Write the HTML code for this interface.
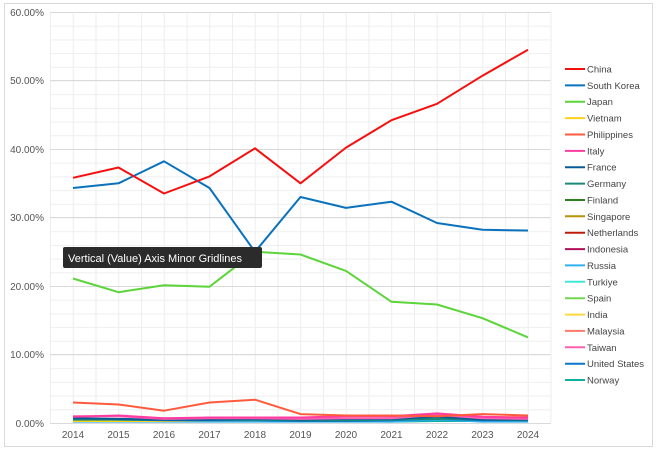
<!DOCTYPE html><html><head><style>body{margin:0;background:#fff}svg{display:block;font-family:"Liberation Sans",sans-serif}</style></head><body>
<svg width="657" height="451" xmlns="http://www.w3.org/2000/svg">
<defs>
<pattern id="grid" x="50" y="12" width="22.75" height="13.7" patternUnits="userSpaceOnUse">
<path d="M0,0.5H22.75M0.5,0V13.7" stroke="#eeeeee" stroke-width="1" fill="none"/>
</pattern>
</defs>
<rect x="4.5" y="3.5" width="648" height="443" fill="#fff" stroke="#d9d9d9"/>
<rect x="50" y="12" width="501" height="411" fill="url(#grid)"/>
<g stroke="#dadada" stroke-width="1">
<line x1="50" x2="551" y1="12.5" y2="12.5"/><line x1="50" x2="551" y1="80.5" y2="80.5"/><line x1="50" x2="551" y1="149.5" y2="149.5"/><line x1="50" x2="551" y1="217.5" y2="217.5"/><line x1="50" x2="551" y1="286.5" y2="286.5"/><line x1="50" x2="551" y1="354.5" y2="354.5"/><line x1="50" x2="551" y1="423.5" y2="423.5"/>
<line x1="551" x2="551" y1="12" y2="423" stroke="#eeeeee"/>
</g>
<g font-size="10" fill="#555" text-anchor="end">
<text x="44" y="16">60.00%</text><text x="44" y="84">50.00%</text><text x="44" y="153">40.00%</text><text x="44" y="221">30.00%</text><text x="44" y="290">20.00%</text><text x="44" y="358">10.00%</text><text x="44" y="427">0.00%</text>
</g>
<g font-size="10" fill="#555" text-anchor="middle">
<text x="73" y="438">2014</text><text x="118.5" y="438">2015</text><text x="164" y="438">2016</text><text x="209.5" y="438">2017</text><text x="255" y="438">2018</text><text x="300.5" y="438">2019</text><text x="346" y="438">2020</text><text x="391.5" y="438">2021</text><text x="437" y="438">2022</text><text x="482.5" y="438">2023</text><text x="528" y="438">2024</text>
</g>
<g fill="none" stroke-width="2" stroke-linejoin="round">
<polyline stroke="#10b0a0" points="73,419.6 118.5,419.6 164,420.3 209.5,421 255,421 300.5,421 346,421 391.5,421.6 437,421 482.5,421 528,421"/>
<polyline stroke="#30b0f0" points="73,421.6 118.5,421.6 164,421.6 209.5,421.6 255,421.6 300.5,421.6 346,421.6 391.5,421.6 437,419.6 482.5,421.6 528,421.6"/>
<polyline stroke="#ffd21a" points="73,421 118.5,421 164,421 209.5,420.3 255,420.3 300.5,420.3 346,419.6 391.5,418.9 437,418.2 482.5,417.5 528,416.8"/>
<polyline stroke="#0a78c8" points="73,418.9 118.5,419.6 164,420.3 209.5,420.3 255,420.3 300.5,421 346,421 391.5,420.3 437,418.9 482.5,420.3 528,420.3"/>
<polyline stroke="#1a8a78" points="73,419.6 118.5,419.6 164,419.6 209.5,419.6 255,419.6 300.5,420.3 346,420.3 391.5,419.6 437,418.9 482.5,419.6 528,420.3"/>
<polyline stroke="#0a5a96" points="73,418.2 118.5,418.9 164,419.6 209.5,419.6 255,418.9 300.5,419.6 346,418.9 391.5,418.9 437,416.8 482.5,419.6 528,419.6"/>
<polyline stroke="#ff60b0" points="73,416.2 118.5,416.2 164,418.9 209.5,418.2 255,418.2 300.5,418.9 346,418.2 391.5,418.2 437,414.8 482.5,418.2 528,418.9"/>
<polyline stroke="#ff3ca0" points="73,416.8 118.5,415.5 164,418.2 209.5,417.5 255,417.5 300.5,417.5 346,416.2 391.5,416.2 437,413.4 482.5,416.8 528,417.5"/>
<polyline stroke="#ff5a3c" points="73,402.5 118.5,404.5 164,410.7 209.5,402.5 255,399.7 300.5,414.1 346,415.5 391.5,415.5 437,416.2 482.5,414.1 528,415.5"/>
<polyline stroke="#5cd43a" points="73,278.5 118.5,292.2 164,285.3 209.5,286.7 255,251.8 300.5,254.5 346,270.9 391.5,301.8 437,304.5 482.5,318.2 528,337.4"/>
<polyline stroke="#0a72bd" points="73,188 118.5,183.3 164,161.3 209.5,188 255,251.8 300.5,197 346,207.9 391.5,201.7 437,223 482.5,229.8 528,230.5"/>
<polyline stroke="#f5100f" points="73,177.8 118.5,167.5 164,193.5 209.5,176.4 255,148.3 300.5,183.3 346,147.6 391.5,120.2 437,103.8 482.5,75.7 528,49.7"/>
</g>
<g font-size="9.5" fill="#444" stroke-width="2">
<line x1="565" x2="585" y1="69" y2="69" stroke="#f5100f"/><text x="587" y="72.5">China</text>
<line x1="565" x2="585" y1="85.4" y2="85.4" stroke="#0a72bd"/><text x="587" y="88.9">South Korea</text>
<line x1="565" x2="585" y1="101.7" y2="101.7" stroke="#5cd43a"/><text x="587" y="105.2">Japan</text>
<line x1="565" x2="585" y1="118.1" y2="118.1" stroke="#ffd21a"/><text x="587" y="121.6">Vietnam</text>
<line x1="565" x2="585" y1="134.5" y2="134.5" stroke="#ff5a3c"/><text x="587" y="138">Philippines</text>
<line x1="565" x2="585" y1="150.9" y2="150.9" stroke="#ff3ca0"/><text x="587" y="154.4">Italy</text>
<line x1="565" x2="585" y1="167.2" y2="167.2" stroke="#0a5a96"/><text x="587" y="170.7">France</text>
<line x1="565" x2="585" y1="183.6" y2="183.6" stroke="#1a8a78"/><text x="587" y="187.1">Germany</text>
<line x1="565" x2="585" y1="200" y2="200" stroke="#2e7d20"/><text x="587" y="203.5">Finland</text>
<line x1="565" x2="585" y1="216.3" y2="216.3" stroke="#b8900a"/><text x="587" y="219.8">Singapore</text>
<line x1="565" x2="585" y1="232.7" y2="232.7" stroke="#c01a0a"/><text x="587" y="236.2">Netherlands</text>
<line x1="565" x2="585" y1="249.1" y2="249.1" stroke="#b0105a"/><text x="587" y="252.6">Indonesia</text>
<line x1="565" x2="585" y1="265.4" y2="265.4" stroke="#30b0f0"/><text x="587" y="268.9">Russia</text>
<line x1="565" x2="585" y1="281.8" y2="281.8" stroke="#40e8d8"/><text x="587" y="285.3">Turkiye</text>
<line x1="565" x2="585" y1="298.2" y2="298.2" stroke="#70d850"/><text x="587" y="301.7">Spain</text>
<line x1="565" x2="585" y1="314.6" y2="314.6" stroke="#ffd840"/><text x="587" y="318.1">India</text>
<line x1="565" x2="585" y1="330.9" y2="330.9" stroke="#ff7a6a"/><text x="587" y="334.4">Malaysia</text>
<line x1="565" x2="585" y1="347.3" y2="347.3" stroke="#ff60b0"/><text x="587" y="350.8">Taiwan</text>
<line x1="565" x2="585" y1="363.7" y2="363.7" stroke="#0a78c8"/><text x="587" y="367.2">United States</text>
<line x1="565" x2="585" y1="380" y2="380" stroke="#10b0a0"/><text x="587" y="383.5">Norway</text>
</g>
<rect x="63" y="247" width="199" height="21" rx="2" fill="#2b2b2b"/>
<text x="68" y="262" font-size="11" fill="#fff">Vertical (Value) Axis Minor Gridlines</text>
</svg></body></html>
